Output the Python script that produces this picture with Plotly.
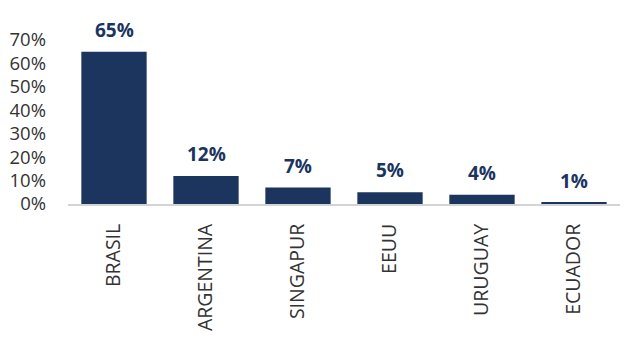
import plotly.graph_objects as go

categories = ["BRASIL", "ARGENTINA", "SINGAPUR", "EEUU", "URUGUAY", "ECUADOR"]
values = [65, 12, 7, 5, 4, 0.6]
tick_vals = [0, 10, 20, 30, 40, 50, 60, 70]
tick_text = [f"{v}%" for v in tick_vals]

navy = "#1b355e"

fig = go.Figure()
fig.add_trace(go.Bar(
    x=categories, y=values, marker_color=navy, marker_line_width=0,
    hoverinfo="skip",
))
for c, v in zip(categories, values):
    fig.add_annotation(
        x=c, y=v, text=f"<b>{v:.0f}%</b>", showarrow=False,
        yanchor="bottom", yshift=7,
        font=dict(family="Open Sans", size=19, color=navy),
    )

fig.update_layout(
    width=631, height=361,
    margin=dict(l=68, r=11, t=40, b=157),
    paper_bgcolor="white", plot_bgcolor="white",
    bargap=0.29, showlegend=False,
    font=dict(family="Open Sans", color="#333333"),
)
fig.update_xaxes(
    tickangle=-90, tickfont=dict(size=19.5, color="#333333"),
    showline=True, linecolor="#d4d4d4", linewidth=2,
    ticks="", ticklabelstandoff=10, showgrid=False,
)
fig.update_yaxes(
    range=[0, 70], tickvals=tick_vals, ticktext=tick_text,
    tickfont=dict(size=18.5, color="#333333"),
    showgrid=False, zeroline=False, showline=False,
    ticks="", ticklabelstandoff=21,
)
fig.write_html("out.html")
